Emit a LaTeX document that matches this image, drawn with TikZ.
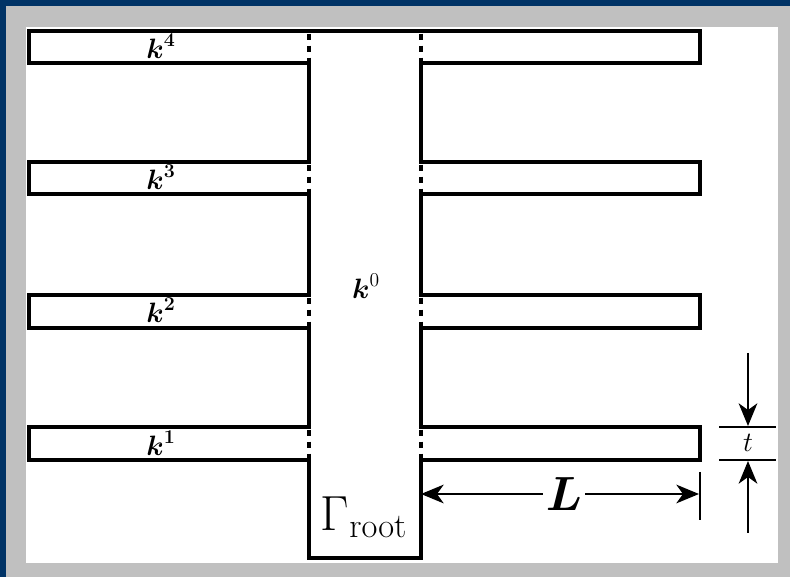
\RequirePackage{fix-cm}
\documentclass[tikz,border=0pt]{standalone}
\usepackage{amsmath}
\usetikzlibrary{arrows.meta}

\definecolor{frameblue}{RGB}{0,51,102}
\definecolor{framegrey}{RGB}{192,192,192}

\tikzset{every picture/.style={line width=0.75pt}}
\tikzset{
  finline/.style={line width=2.5pt, line join=miter},
  cutline/.style={line width=2.5pt, dash pattern={on 5pt off 4pt}, dash phase=-2pt},
  dimline/.style={line width=1.7pt},
  dimarrow/.style={line width=1.7pt, -{Stealth[length=17pt,width=14pt,inset=5pt]}},
  finlabel/.style={inner sep=0.75pt, font=\fontsize{21}{25}\selectfont},
}

\begin{document}
\begin{tikzpicture}[x=0.75pt,y=0.75pt,yscale=-1,xscale=1]
\useasboundingbox (0,0) rectangle (790,577);

%Shape: Rectangle [id:frame]
\fill [frameblue] (0,0) rectangle (790,577);
\fill [framegrey] (6,6) rectangle (790,577);
\fill [white] (26,27) rectangle (778,563);

%Shape: Polygon [id:fins]
\draw [finline] (29,31) -- (700,31) -- (700,63) -- (421,63) -- (421,162) -- (700,162) -- (700,194) -- (421,194) -- (421,295) -- (700,295) -- (700,328) -- (421,328) -- (421,427) -- (700,427) -- (700,460) -- (421,460) -- (421,558) -- (309,558) -- (309,460) -- (29,460) -- (29,427) -- (309,427) -- (309,328) -- (29,328) -- (29,295) -- (309,295) -- (309,194) -- (29,194) -- (29,162) -- (309,162) -- (309,63) -- (29,63) -- cycle ;

%Straight Lines [id:cut4]
\draw [cutline] (309,31) -- (309,63) ;
\draw [cutline] (421,31) -- (421,63) ;
%Straight Lines [id:cut3]
\draw [cutline] (309,162) -- (309,194) ;
\draw [cutline] (421,162) -- (421,194) ;
%Straight Lines [id:cut2]
\draw [cutline] (309,295) -- (309,328) ;
\draw [cutline] (421,295) -- (421,328) ;
%Straight Lines [id:cut1]
\draw [cutline] (309,427) -- (309,460) ;
\draw [cutline] (421,427) -- (421,460) ;

% Text Node
\node [finlabel] (k4) at (161,46) {$\boldsymbol{k}^{\boldsymbol{4}}$};
% Text Node
\node [finlabel] (k3) at (161,177) {$\boldsymbol{k}^{\boldsymbol{3}}$};
% Text Node
\node [finlabel] (k2) at (161,310) {$\boldsymbol{k}^{\boldsymbol{2}}$};
% Text Node
\node [finlabel] (k1) at (161,443) {$\boldsymbol{k}^{\boldsymbol{1}}$};
% Text Node
\node [finlabel] (k0) at (366,286) {$\boldsymbol{k}^{0}$};
% Text Node
\node [inner sep=0.75pt, font=\fontsize{37}{42}\selectfont] (groot) at (364,517) {$\Gamma_{\mathrm{root}}$};

%Straight Lines [id:lenbar]
\coordinate (Lstart) at (421,494);
\coordinate (Lend) at (699,494);
\draw [dimline] (700,472) -- (700,520) ;
% Text Node
\node [inner sep=2pt, font=\fontsize{36}{42}\selectfont] (Llab) at (564,494) {$\boldsymbol{L}$};
\draw [dimarrow] (Llab) -- (Lstart) ;
\draw [dimarrow] (Llab) -- (Lend) ;

%Straight Lines [id:thick]
\coordinate (ttop) at (748,426);
\coordinate (tbot) at (748,461);
\coordinate (tin) at (748,353);
\coordinate (tout) at (748,533);
\draw [dimline] (719,427) -- (776,427) ;
\draw [dimline] (719,460) -- (776,460) ;
\draw [dimarrow] (tin) -- (ttop) ;
\draw [dimarrow] (tout) -- (tbot) ;
% Text Node
\node [inner sep=0.75pt, font=\fontsize{21}{25}\selectfont] (tlab) at (748,443) {$t$};

\end{tikzpicture}
\end{document}
